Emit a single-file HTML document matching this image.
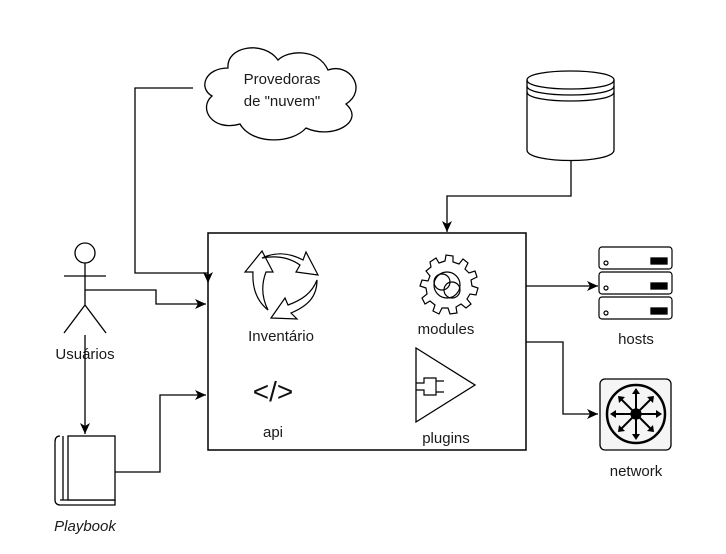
<!DOCTYPE html>
<html><head><meta charset="utf-8"><style>body{margin:0;background:#fff}svg{display:block}text{font-family:"Liberation Sans",sans-serif;font-size:15px;fill:#1a1a1a}</style></head><body>
<svg width="726" height="554" viewBox="0 0 726 554" stroke="#000" fill="none" stroke-width="1.3">
<defs><marker id="a" markerWidth="12" markerHeight="12" refX="11" refY="6" orient="auto" markerUnits="userSpaceOnUse"><path d="M0,1 L11,6 L0,11 L3,6 Z" fill="#000" stroke="none"/></marker></defs>
<rect x="208" y="233" width="318" height="217" stroke-width="1.5"/>
<!-- cloud -->
<path d="M228,68 C205,68 198,88 212,96 C198,108 212,132 240,124 C252,145 292,144 306,128 C332,140 366,122 346,104 C368,90 350,62 328,70 C318,48 288,50 278,60 C264,40 226,46 228,68 Z" fill="#fff"/>
<text x="282" y="84" text-anchor="middle" stroke="none">Provedoras</text>
<text x="282" y="106" text-anchor="middle" stroke="none">de "nuvem"</text>
<path d="M193,88 H135 V273 H208 V283" marker-end="url(#a)"/>
<!-- database -->
<path d="M527,80 C527,68 614,68 614,80 V150 C614,164 527,164 527,150 Z" fill="#fff"/>
<path d="M527,80 C527,92 614,92 614,80 M527,86 C527,98 614,98 614,86 M527,92 C527,104 614,104 614,92"/>
<path d="M571,160 V196 H447 V232" marker-end="url(#a)"/>
<!-- actor -->
<circle cx="85" cy="253" r="10"/>
<path d="M85,263 V305 M64,276 H106 M85,305 L64,333 M85,305 L106,333"/>
<text x="85" y="359" text-anchor="middle" stroke="none">Usuários</text>
<path d="M85,290 H156 V304 H206" marker-end="url(#a)"/>
<path d="M85,335 V434" marker-end="url(#a)"/>
<!-- book -->
<path d="M60,436 C56,436 55,439 55,442 V500 C55,503 57,505 60,505 H115 V500 H60"/>
<path d="M63,436 V500"/>
<rect x="68" y="436" width="47" height="64" fill="#fff"/>
<text x="85" y="531" text-anchor="middle" font-style="italic" stroke="none">Playbook</text>
<path d="M115,472 H160 V395 H206" marker-end="url(#a)"/>
<!-- recycle icon -->
<g stroke-width="1.2" fill="#fff">
<path d="M262,251 L245,272 L253,272 C252,290 258,302 268,310 C262,298 261,285 266,272 L273,272 Z"/>
<path d="M318,275 L306,252 L303,260 C288,252 275,252 262,258 C278,255 290,258 300,265 L296,272 Z"/>
<path d="M271,318 L297,319 L291,313 C310,305 317,295 317,280 C312,293 302,300 288,305 L285,298 Z"/>
</g>
<text x="281" y="341" text-anchor="middle" stroke="none">Inventário</text>
<!-- gear -->
<g stroke-width="1.2">
<path d="M430,262 l6,-4 3,5 6,-2 1,-6 7,1 0,6 6,2 4,-5 5,4 -3,6 4,4 6,-2 2,6 -6,3 1,6 6,2 -2,7 -6,-1 -3,5 4,5 -5,4 -5,-4 -5,3 1,6 -7,1 -2,-6 -6,0 -3,6 -6,-3 2,-6 -5,-4 -5,3 -3,-6 5,-4 -1,-6 -6,-2 2,-6 6,1 2,-5 -4,-5 5,-4 z"/>
<circle cx="442" cy="282" r="8"/><circle cx="452" cy="290" r="8"/><circle cx="447" cy="285" r="13"/>
</g>
<text x="446" y="334" text-anchor="middle" stroke="none">modules</text>
<!-- api -->
<text x="273" y="401" text-anchor="middle" stroke="none" style="font-size:28px;fill:#111">&lt;/&gt;</text>
<text x="273" y="437" text-anchor="middle" stroke="none">api</text>
<!-- plugins -->
<path d="M416,348 L475,385 L416,422 Z"/>
<path d="M416,383 H424 V378 H436 V395 H424 V390 H416 M436,381 H444 M436,392 H444" stroke-width="1.2"/>
<text x="446" y="443" text-anchor="middle" stroke="none">plugins</text>
<!-- hosts -->
<path d="M526,286 H598" marker-end="url(#a)"/>
<g stroke-width="1.2">
<rect x="599" y="247" width="73" height="22" rx="3"/>
<rect x="599" y="272" width="73" height="22" rx="3"/>
<rect x="599" y="297" width="73" height="22" rx="3"/>
<circle cx="606" cy="263" r="2"/><circle cx="606" cy="288" r="2"/><circle cx="606" cy="313" r="2"/>
</g>
<rect x="651" y="258" width="16" height="6" fill="#000"/><rect x="651" y="283" width="16" height="6" fill="#000"/><rect x="651" y="308" width="16" height="6" fill="#000"/>
<text x="636" y="344" text-anchor="middle" stroke="none">hosts</text>
<!-- network -->
<path d="M526,342 H563 V414 H598" marker-end="url(#a)"/>
<rect x="600" y="379" width="71" height="71" rx="5" fill="#f5f5f5"/>
<circle cx="636" cy="414" r="29" stroke-width="2.5"/>
<circle cx="636" cy="414" r="5" fill="#000"/>
<g stroke-width="2">
<path d="M636,414 V391 M636,414 V437 M636,414 H613 M636,414 H659 M636,414 L620,398 M636,414 L652,398 M636,414 L620,430 M636,414 L652,430"/>
</g>
<g fill="#000" stroke="none">
<path d="M636,388 l-4,6 h8z M636,440 l-4,-6 h8z M610,414 l6,-4 v8z M662,414 l-6,-4 v8z"/>
<path d="M618,396 l7,1 -6,6z M654,396 l-7,1 6,6z M618,432 l7,-1 -6,-6z M654,432 l-7,-1 6,-6z"/>
</g>
<text x="636" y="476" text-anchor="middle" stroke="none">network</text>
</svg>
</body></html>
